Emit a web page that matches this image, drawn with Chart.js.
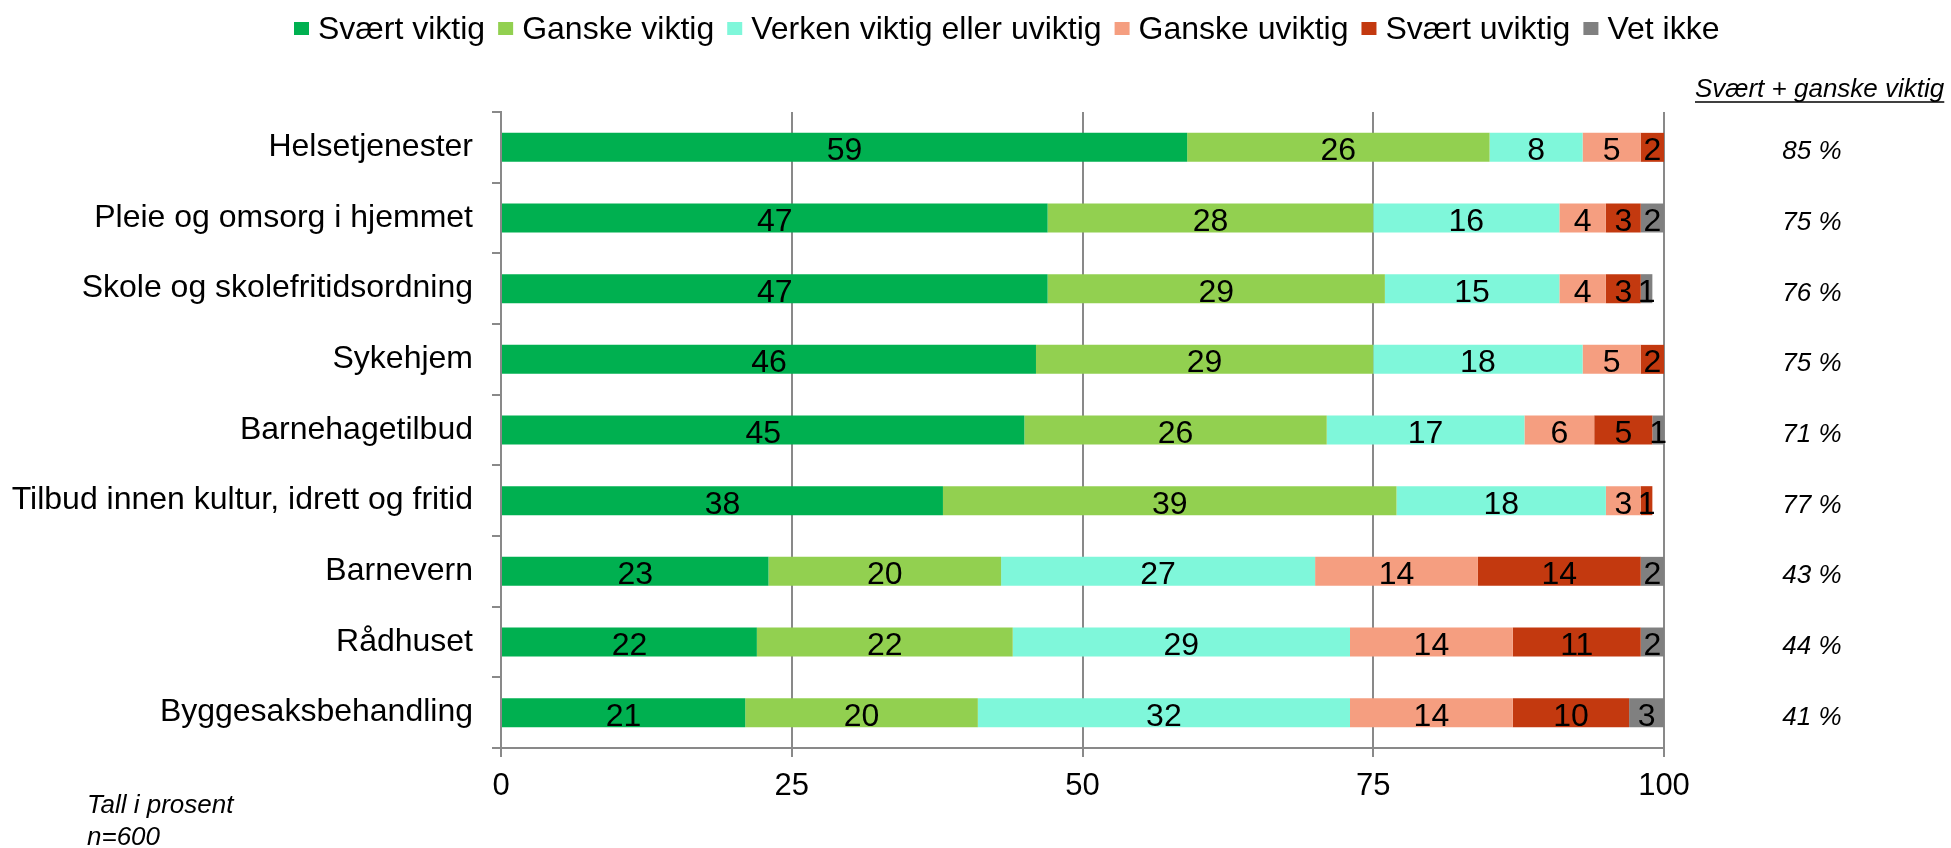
<!DOCTYPE html>
<html lang="no">
<head>
    <meta charset="UTF-8">
    <title>Viktighet av kommunale tjenester</title>
    <script src="https://cdn.jsdelivr.net/npm/chart.js"></script>
    <style>
        html, body { margin: 0; padding: 0; background: #ffffff; }
    </style>
</head>
<body>
<canvas id="myChart" width="1951" height="848"></canvas>
<script>
    // Data (tall i prosent)
    const kategorier = [
        'Helsetjenester',
        'Pleie og omsorg i hjemmet',
        'Skole og skolefritidsordning',
        'Sykehjem',
        'Barnehagetilbud',
        'Tilbud innen kultur, idrett og fritid',
        'Barnevern',
        'Rådhuset',
        'Byggesaksbehandling'
    ];
    const svaertViktig  = [59, 47, 47, 46, 45, 38, 23, 22, 21];
    const ganskeViktig  = [26, 28, 29, 29, 26, 39, 20, 22, 20];
    const verken        = [8, 16, 15, 18, 17, 18, 27, 29, 32];
    const ganskeUviktig = [5, 4, 4, 5, 6, 3, 14, 14, 14];
    const svaertUviktig = [2, 3, 3, 2, 5, 1, 14, 11, 10];
    const vetIkke       = [0, 2, 1, 0, 1, 0, 2, 2, 3];
    const sumViktig     = [85, 75, 76, 75, 71, 77, 43, 44, 41];
    const xTicks        = [0, 25, 50, 75, 100];

    const FONT = '"Liberation Sans", Arial, sans-serif';
    const grid = '#898989';

    // tall inni stolpene
    const rotuloPlugin = {
        id: 'rotulos',
        afterDatasetsDraw(chart) {
            const ctx = chart.ctx;
            ctx.save();
            ctx.font = '32px ' + FONT;
            ctx.fillStyle = '#000';
            ctx.textAlign = 'center';
            ctx.textBaseline = 'alphabetic';
            chart.data.datasets.forEach((ds, i) => {
                chart.getDatasetMeta(i).data.forEach((bar, j) => {
                    const v = ds.data[j];
                    if (!v) return;
                    const p = bar.getProps(['x', 'base', 'y'], true);
                    ctx.fillText(v, (p.x + p.base) / 2, p.y + 13);
                });
            });
            ctx.restore();
        }
    };

    // legende, kolonne til høyre og fotnote
    const ekstraPlugin = {
        id: 'ekstra',
        afterDraw(chart) {
            const ctx = chart.ctx;
            const yScale = chart.scales.y;
            ctx.save();

            // legende
            ctx.font = '32px ' + FONT;
            ctx.textAlign = 'left';
            ctx.textBaseline = 'alphabetic';
            let x = 294;
            chart.data.datasets.forEach(ds => {
                ctx.fillStyle = ds.backgroundColor;
                ctx.fillRect(x, 22, 15, 13);
                ctx.fillStyle = '#000';
                ctx.fillText(ds.label, x + 24, 39);
                x += 24 + ctx.measureText(ds.label).width + 13;
            });

            // Svært + ganske viktig
            ctx.font = 'italic 26px ' + FONT;
            const tittel = 'Svært + ganske viktig';
            ctx.fillText(tittel, 1695, 97);
            const w = ctx.measureText(tittel).width;
            ctx.strokeStyle = '#000';
            ctx.lineWidth = 1.5;
            ctx.beginPath();
            ctx.moveTo(1695, 102);
            ctx.lineTo(1695 + w, 102);
            ctx.stroke();

            ctx.textAlign = 'center';
            sumViktig.forEach((v, i) => {
                ctx.fillText(v + ' %', 1812, yScale.getPixelForValue(i) + 12);
            });

            // fotnote
            ctx.textAlign = 'left';
            ctx.fillText('Tall i prosent', 87, 813);
            ctx.fillText('n=600', 87, 845);
            ctx.restore();
        }
    };

    const ctx = document.getElementById('myChart').getContext('2d');

    const myChart = new Chart(ctx, {
        type: 'bar',
        data: {
            labels: kategorier,
            datasets: [
                { label: 'Svært viktig', data: svaertViktig, backgroundColor: '#00b050' },
                { label: 'Ganske viktig', data: ganskeViktig, backgroundColor: '#92d050' },
                { label: 'Verken viktig eller uviktig', data: verken, backgroundColor: '#7ff7da' },
                { label: 'Ganske uviktig', data: ganskeUviktig, backgroundColor: '#f59e80' },
                { label: 'Svært uviktig', data: svaertUviktig, backgroundColor: '#c3390f' },
                { label: 'Vet ikke', data: vetIkke, backgroundColor: '#808080' }
            ]
        },
        options: {
            indexAxis: 'y',
            responsive: false,
            animation: false,
            devicePixelRatio: 1,
            barPercentage: 0.41,
            categoryPercentage: 1,
            layout: {
                padding: { left: 8, right: 287, top: 112, bottom: 0 }
            },
            plugins: {
                legend: { display: false },
                tooltip: { enabled: false }
            },
            scales: {
                x: {
                    stacked: true,
                    min: 0,
                    max: 100,
                    afterBuildTicks: s => { s.ticks = xTicks.map(v => ({ value: v })); },
                    afterFit: s => { s.height = 100; },
                    grid: { color: grid, lineWidth: 2, tickLength: 9 },
                    border: { color: grid, width: 2 },
                    ticks: {
                        color: '#000',
                        padding: 11,
                        font: { family: FONT, size: 31 }
                    }
                },
                y: {
                    stacked: true,
                    afterFit: s => { s.width = 493; },
                    grid: {
                        offset: true,
                        drawOnChartArea: false,
                        color: grid,
                        lineWidth: 2,
                        tickLength: 9
                    },
                    border: { color: grid, width: 2 },
                    ticks: {
                        color: '#000',
                        padding: 19,
                        font: { family: FONT, size: 32 }
                    }
                }
            }
        },
        plugins: [rotuloPlugin, ekstraPlugin]
    });
</script>
</body>
</html>
